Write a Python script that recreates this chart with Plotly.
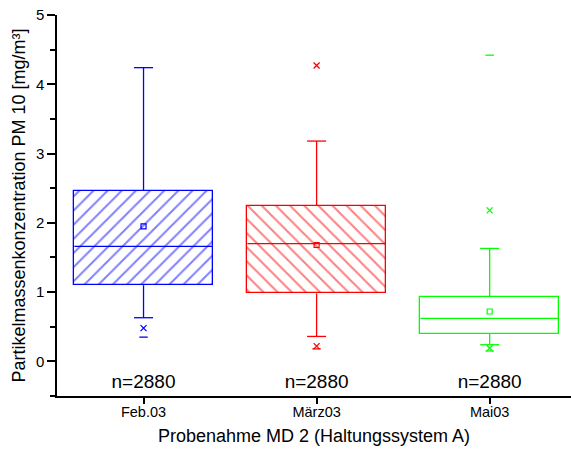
import plotly.graph_objects as go

categories = ["Feb.03", "März03", "Mai03"]
colors = ["#0000FF", "#FF0000", "#00FF00"]
patterns = ["/", "\\", ""]
q1 = [1.10, 0.98, 0.40]
median = [1.66, 1.70, 0.62]
q3 = [2.46, 2.25, 0.93]
mean = [1.95, 1.68, 0.72]
whisk_low = [0.63, 0.36, 0.24]
whisk_high = [4.24, 3.18, 1.63]
xmark_vals = [[0.48], [4.27, 0.22], [2.18, 0.19]]
dash_vals = [[0.35], [0.18], [4.42, 0.15]]
n_labels = ["n=2880", "n=2880", "n=2880"]

pos = list(range(len(categories)))
box_w = 0.8
cap_hw = 0.055

fig = go.Figure()

fig.add_trace(go.Bar(
    x=pos, base=q1, y=[b - a for a, b in zip(q1, q3)], width=box_w,
    marker=dict(color="white",
                line=dict(color=colors, width=1.3),
                pattern=dict(shape=patterns, fgcolor=colors, bgcolor="white",
                             size=10, solidity=0.2)),
    showlegend=False, hoverinfo="skip"))

for i, c in enumerate(colors):
    x0 = pos[i]
    fig.add_trace(go.Scatter(x=[x0 - box_w / 2, x0 + box_w / 2], y=[median[i]] * 2,
                             mode="lines", line=dict(color=c, width=1.3),
                             showlegend=False, hoverinfo="skip"))
    xs = [x0, x0, None, x0, x0, None, x0 - cap_hw, x0 + cap_hw, None, x0 - cap_hw, x0 + cap_hw]
    ys = [q3[i], whisk_high[i], None, q1[i], whisk_low[i], None,
          whisk_high[i], whisk_high[i], None, whisk_low[i], whisk_low[i]]
    fig.add_trace(go.Scatter(x=xs, y=ys, mode="lines", line=dict(color=c, width=1.3),
                             showlegend=False, hoverinfo="skip"))
    fig.add_trace(go.Scatter(x=[x0], y=[mean[i]], mode="markers",
                             marker=dict(symbol="square-open", size=5, color=c,
                                         line=dict(width=1.2, color=c)),
                             showlegend=False, hoverinfo="skip"))
    fig.add_trace(go.Scatter(x=[x0] * len(xmark_vals[i]), y=xmark_vals[i], mode="markers",
                             marker=dict(symbol="x-thin-open", size=6, color=c,
                                         line=dict(width=1.3, color=c)),
                             showlegend=False, hoverinfo="skip"))
    fig.add_trace(go.Scatter(x=[x0] * len(dash_vals[i]), y=dash_vals[i], mode="markers",
                             marker=dict(symbol="line-ew-open", size=6, color=c,
                                         line=dict(width=1.3, color=c)),
                             showlegend=False, hoverinfo="skip"))

fig.add_trace(go.Scatter(x=pos, y=[-0.32] * len(pos), mode="text", text=n_labels,
                         textfont=dict(size=19, color="black", family="Liberation Sans, Arial"),
                         showlegend=False, hoverinfo="skip"))

fig.update_layout(
    width=571, height=458,
    margin=dict(l=57, r=0, t=15, b=62),
    plot_bgcolor="white", paper_bgcolor="white",
    font=dict(family="Liberation Sans, Arial", color="black"),
    bargap=0,
)
fig.update_xaxes(
    range=[-0.5, 2.47], tickvals=pos, ticktext=categories, automargin=False,
    showline=True, linecolor="black", linewidth=1.5,
    ticks="outside", ticklen=6, tickwidth=1.5, tickcolor="black",
    ticklabelstandoff=-4,
    tickfont=dict(size=14.5), showgrid=False, zeroline=False,
    title=dict(text="Probenahme MD 2 (Haltungssystem A)", font=dict(size=18), standoff=10),
)
fig.update_yaxes(
    range=[-0.5, 5], tickvals=[0, 1, 2, 3, 4, 5], automargin=False,
    showline=True, linecolor="black", linewidth=1.5,
    ticks="outside", ticklen=8, tickwidth=1.5, tickcolor="black",
    minor=dict(tickvals=[-0.5, 0.5, 1.5, 2.5, 3.5, 4.5], ticks="outside", ticklen=5,
               tickwidth=1.5, tickcolor="black"),
    tickfont=dict(size=15), showgrid=False, zeroline=False,
    title=dict(text="Partikelmassenkonzentration PM 10 [mg/m³]", font=dict(size=18), standoff=6),
)

fig.write_html("out.html", config={"displayModeBar": False},
               post_script="document.body.style.margin='0';")
